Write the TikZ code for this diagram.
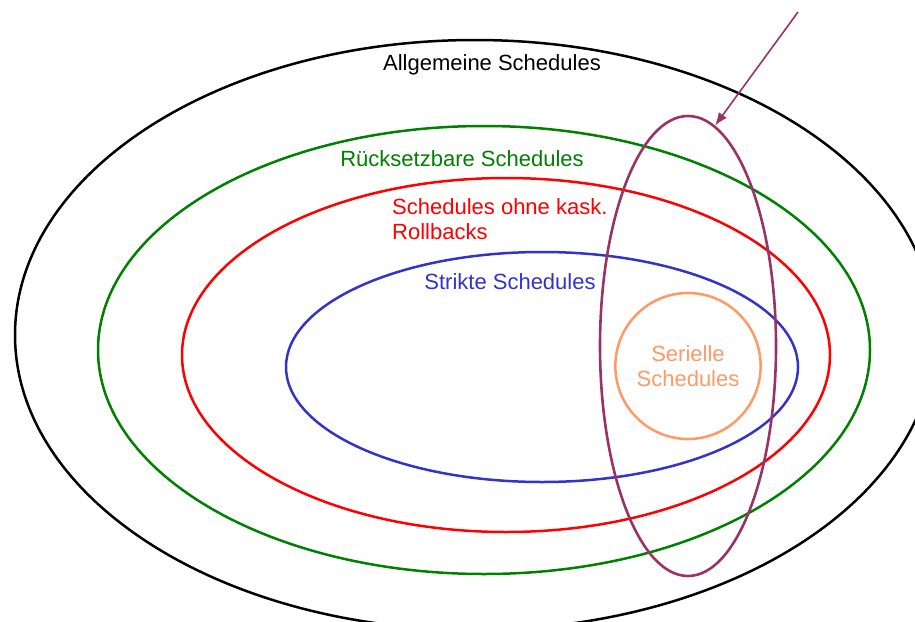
\documentclass[tikz,border=0pt]{standalone}
\usepackage{fontspec}
\setmainfont{Liberation Sans}
\usetikzlibrary{shapes.geometric,arrows.meta}
\definecolor{gruen}{RGB}{0,128,0}
\definecolor{blau}{RGB}{51,51,204}
\definecolor{orangeS}{RGB}{255,153,102}
\definecolor{lila}{RGB}{153,51,102}
\tikzset{menge/.style={ellipse,draw,line width=2.5pt,inner sep=0pt},
  lbl/.style={font=\fontsize{22}{25.5}\selectfont,inner sep=0pt}}
\begin{document}
\begin{tikzpicture}[x=1pt,y=-1pt]
      \useasboundingbox (0,0) rectangle (915,621);
      \clip (0,0) rectangle (915,621);

      \foreach \n/\c/\x/\y/\w/\h in {alle/black/475/335/920/590,
          ruecks/gruen/484/350/772/448, kask/red/506/355/648/354,
          strikt/blau/542/367/512/230}
        \node[menge,draw=\c,minimum width=\w pt,minimum height=\h pt] (\n) at (\x,\y) {};

      \node[menge,draw=orangeS,text=orangeS,lbl,align=center,
        minimum width=137pt,minimum height=146pt] (seriell) at (688,366) {Serielle\\Schedules};
      \node[menge,draw=lila,line width=2.6pt,minimum width=176pt,minimum height=460pt] (zwei) at (688,346) {};

      \node[lbl] (talle) at (492,65) {Allgemeine Schedules};
      \node[lbl,text=gruen] (truecks) at (462,159) {Rücksetzbare Schedules};
      \node[lbl,text=red,align=left,anchor=west] (tkask) at (392,219) {Schedules ohne kask.\\Rollbacks};
      \node[lbl,text=blau] (tstrikt) at (510,281.5) {Strikte Schedules};

      \coordinate (pfeil) at (798,12);
      \draw[lila,line width=1.6pt,-{Latex[length=13pt,width=10pt]}] (pfeil) -- (zwei.83);
    \end{tikzpicture}
\end{document}
